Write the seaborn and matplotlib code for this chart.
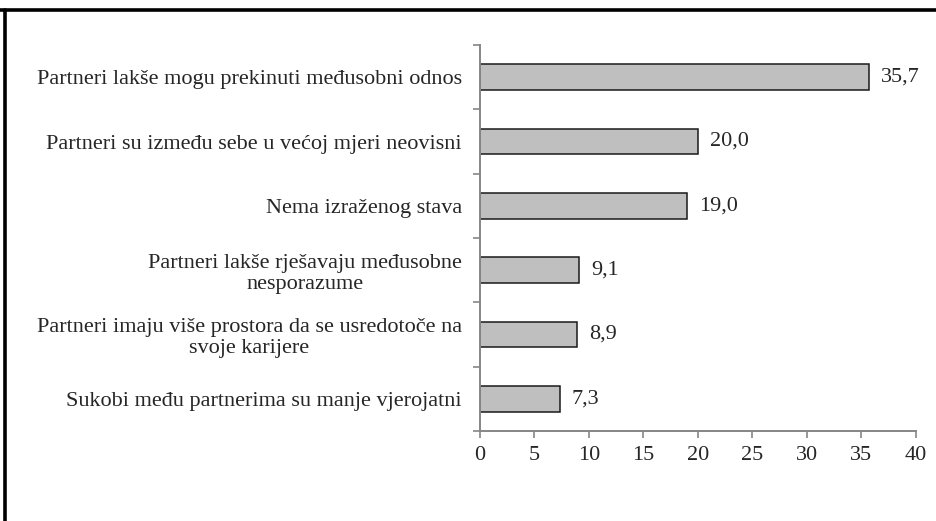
import pandas as pd
import numpy as np
import matplotlib.pyplot as plt
from matplotlib.lines import Line2D
import seaborn as sns

kategorije = [
    "Partneri lakše mogu prekinuti međusobni odnos",
    "Partneri su između sebe u većoj mjeri neovisni",
    "Nema izraženog stava",
    "Partneri lakše rješavaju međusobne\nnesporazume",
    "Partneri imaju više prostora da se usredotoče na\nsvoje karijere",
    "Sukobi među partnerima su manje vjerojatni",
]
postotak = [35.7, 20.0, 19.0, 9.1, 8.9, 7.3]
x_ticks = [0, 5, 10, 15, 20, 25, 30, 35, 40]

BAR_FILL = "#bfbfbf"
BAR_EDGE = "#1a1a1a"
AXIS_GREY = "#868686"

sns.set_style("white")
plt.rcParams["font.family"] = ["Liberation Serif", "DejaVu Serif"]
plt.rcParams["font.size"] = 16

df = pd.DataFrame({"kategorija": kategorije, "postotak": postotak})

fig = plt.figure(figsize=(9.37, 5.21), dpi=100)
ax = fig.add_axes([480/937, 1-431/521, (916-480)/937, (431-45)/521])

sns.barplot(data=df, y="kategorija", x="postotak", orient="h", width=0.4,
            color=BAR_FILL, edgecolor=BAR_EDGE, linewidth=1.1, saturation=1, ax=ax)

for i, v in enumerate(postotak):
    ax.text(v + 1.1, i, f"{v:.1f}".replace(".", ","), va="center", ha="left", fontsize=16)

ax.set_xlim(0, 40)
ax.set_ylim(len(kategorije) - 0.5, -0.5)
ax.set_xticks(x_ticks)
ax.set_xlabel(""); ax.set_ylabel("")

# y kvačice na granicama kategorija
ax.set_yticks(np.arange(len(kategorije)))
ax.set_yticklabels(kategorije, multialignment="center", linespacing=1.15)
ax.set_yticks(np.arange(-0.5, len(kategorije)), minor=True)
ax.tick_params(axis="y", which="major", left=True, length=0, pad=13)
ax.tick_params(axis="y", which="minor", left=True, length=5, width=1.2, color=AXIS_GREY, direction="out")
ax.tick_params(axis="x", which="major", bottom=True, length=5, width=1.2, color=AXIS_GREY, direction="out", pad=6)

for s in ["top", "right"]:
    ax.spines[s].set_visible(False)
for s in ["left", "bottom"]:
    ax.spines[s].set_color(AXIS_GREY)
    ax.spines[s].set_linewidth(1.4)

# okvir (gornji i lijevi rub)
fig.add_artist(Line2D([0, 1], [1-9.5/521, 1-9.5/521], transform=fig.transFigure, color="black", lw=2.6))
fig.add_artist(Line2D([5.5/937, 5.5/937], [0, 1-9.5/521], transform=fig.transFigure, color="black", lw=2.6))

fig.savefig("out.png", dpi=100)
